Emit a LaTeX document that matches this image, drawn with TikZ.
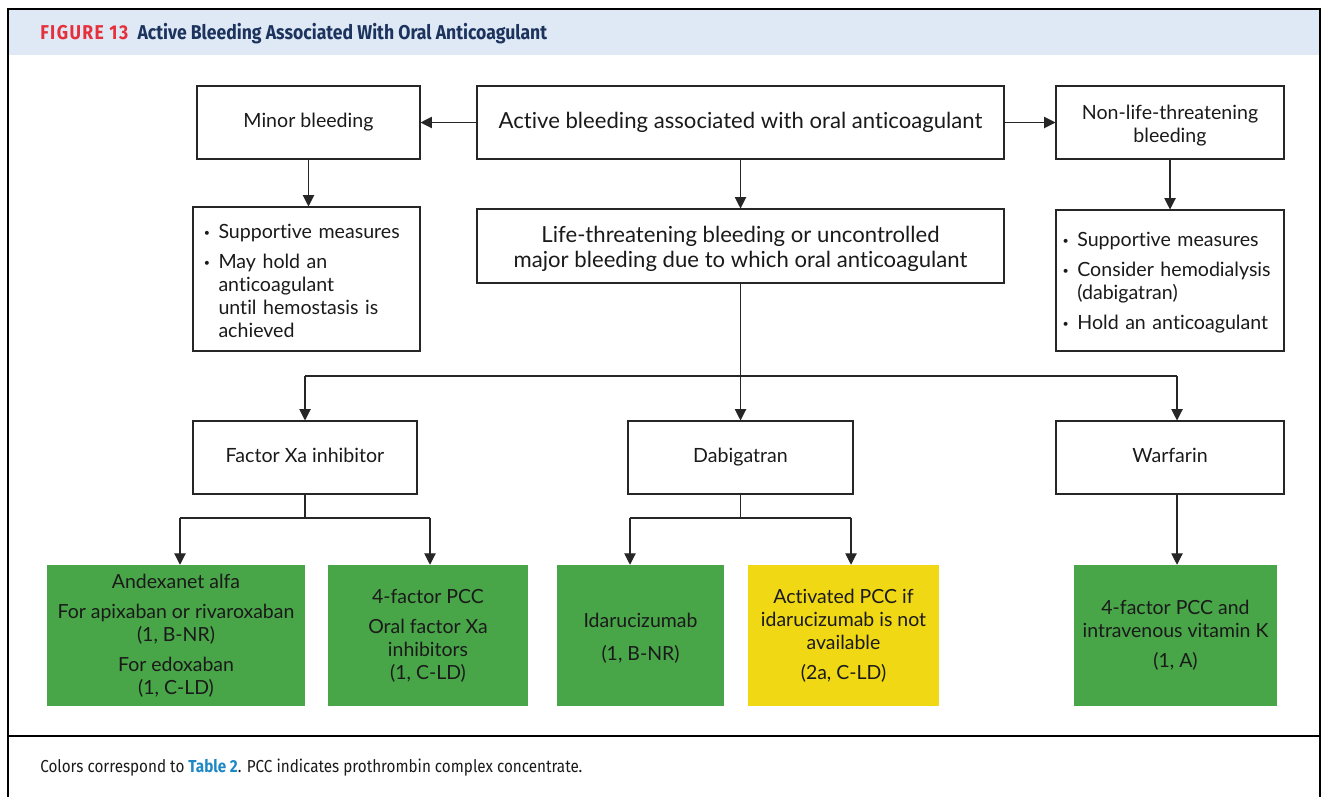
\documentclass[tikz,border=0pt]{standalone}
\usepackage{fontspec}
\setmainfont{Lato}[Ligatures={NoCommon}]
\newfontfamily\headfont[FakeStretch=0.88]{Fira Sans}
\usetikzlibrary{arrows.meta,calc}
\definecolor{hdrblue}{HTML}{DEE9F5}
\definecolor{hdrnavy}{HTML}{1C335E}
\definecolor{figred}{HTML}{E5303B}
\definecolor{linkblue}{HTML}{1E88C4}
\definecolor{cgreen}{HTML}{48A548}
\definecolor{cyellow}{HTML}{F0D814}
\definecolor{txt}{HTML}{1A1A1A}
\newcommand{\bul}{\makebox[11pt][l]{\raisebox{1.5pt}{\fontsize{8}{8}\selectfont\textbullet}}}
\newcommand{\ind}{\hspace*{11pt}}
\newcommand{\sr}{\rule[-3.5pt]{0pt}{15pt}}
\newcommand{\tr}{\rule{0pt}{15pt}}
\begin{document}
\begin{tikzpicture}[x=0.75pt,y=-0.75pt,
  box/.style={draw=black!85, line width=0.8pt, inner sep=0pt, align=center, text=txt,
    font=\fontsize{14.7}{17.25}\selectfont},
  big/.style={font=\fontsize{16.6}{19}\selectfont},
  lbox/.style={box, align=left, inner xsep=8pt},
  rec/.style={inner sep=0pt, align=center, text=txt, font=\fontsize{14.6}{17.25}\selectfont},
  conn/.style={line width=0.8pt, draw=black!85},
  arr/.style={conn, -{Triangle[length=8.5pt,width=8.5pt]}}]
\useasboundingbox (0,0) rectangle (1326,797);
% header and frame
\fill[hdrblue] (8,9) rectangle (1320,55);
\draw[line width=2pt] (8,797) -- (8,9) -- (1320,9) -- (1320,797);
\draw[line width=1.5pt] (8,736) -- (1320,736);
\node[anchor=west, inner sep=0pt, font=\headfont\bfseries\fontsize{15}{17}\selectfont] (title) at (40,34)
  {\textcolor{figred}{\addfontfeature{LetterSpace=7}FIGURE 13}\hspace{7pt}\textcolor{hdrnavy}{Active Bleeding Associated With Oral Anticoagulant}};
\node[anchor=west, inner sep=0pt, font=\headfont\fontsize{13}{15}\selectfont, text=txt] (caption) at (40,768)
  {Colors correspond to \textcolor{linkblue}{\bfseries Table 2}. PCC indicates prothrombin complex concentrate.};
% boxes
\node[box, minimum width=167.25pt, minimum height=54.75pt] (minor) at (308.5,122.5) {\sr Minor bleeding};
\node[box, big, minimum width=395.25pt, minimum height=54.75pt] (active) at (740.5,122.5) {\sr Active bleeding associated with oral anticoagulant};
\node[box, minimum width=171pt, minimum height=54.75pt] (nonlife) at (1170,122.5) {\tr Non-life-threatening\\bleeding};
\node[lbox, minimum width=170.25pt, minimum height=108pt, text width=154pt] (supL) at (306.5,279)
  {\rule{0pt}{14pt}\bul Supportive measures\\[5.25pt]\bul May hold an\\\ind anticoagulant\\\ind until hemostasis is\\\ind achieved};
\node[box, big, minimum width=395.25pt, minimum height=55.5pt] (life) at (740.5,246) {\rule{0pt}{16.5pt}Life-threatening bleeding or uncontrolled\\major bleeding due to which oral anticoagulant};
\node[lbox, inner xsep=5pt, minimum width=171pt, minimum height=105.75pt, text width=161pt] (supR) at (1170,280.5)
  {\rule{0pt}{14pt}\bul Supportive measures\\[5.25pt]\bul \mbox{Consider hemodialysis}\\\ind (dabigatran)\\[5.25pt]\bul \mbox{Hold an anticoagulant}};
\node[box, minimum width=168pt, minimum height=54.75pt] (fxa) at (305,457.5) {\sr Factor Xa inhibitor};
\node[box, minimum width=168.75pt, minimum height=54.75pt] (dabi) at (740.5,457.5) {\sr Dabigatran};
\node[box, minimum width=171pt, minimum height=54.75pt] (warf) at (1170,457.5) {\sr Warfarin};
% recommendation boxes
\node[rec, fill=cgreen, minimum width=193.5pt, minimum height=105.75pt] (g1) at (176,635.5)
  {Andexanet alfa\\[5.25pt]For apixaban or rivaroxaban\\(1, B-NR)\\[5.25pt]For edoxaban\\(1, C-LD)};
\node[rec, fill=cgreen, minimum width=150pt, minimum height=105.75pt] (g2) at (428,635.5)
  {4-factor PCC\\[5.25pt]Oral factor Xa\\inhibitors\\(1, C-LD)};
\node[rec, fill=cgreen, minimum width=125.25pt, minimum height=105.75pt] (g3) at (640.5,635.5)
  {\tr Idarucizumab\\[7pt](1, B-NR)};
\node[rec, fill=cyellow, minimum width=143.25pt, minimum height=105.75pt] (y1) at (843.5,635.5)
  {Activated PCC if\\idarucizumab is not\\available\\[5.25pt](2a, C-LD)};
\node[rec, fill=cgreen, minimum width=152.25pt, minimum height=105.75pt] (g4) at (1175.5,635.5)
  {4-factor PCC and\\intravenous vitamin K\\[5.25pt](1, A)};
% connectors top
\draw[arr] (active.west) -- (minor.east);
\draw[arr] (active.east) -- (nonlife.west);
\draw[arr] (minor.south) -- (minor.south |- supL.north);
\draw[arr] (active.south) -- (life.north);
\draw[arr] (nonlife.south) -- (nonlife.south |- supR.north);
% branch to drug classes
\coordinate (jm) at (740.5,376);
\coordinate (jl) at (305,376);
\coordinate (jr) at (1177,376);
\draw[conn] (life.south) -- (jm);
\draw[conn] (jl) -- (jr);
\draw[arr] (jl) -- (fxa.north);
\draw[arr] (jm) -- (dabi.north);
\draw[arr] (jr) -- (jr |- warf.north);
% factor Xa branch
\coordinate (fm) at (305,518);
\coordinate (fl) at (180,518);
\coordinate (fr) at (430,518);
\draw[conn] (fxa.south) -- (fm);
\draw[conn] (fl) -- (fr);
\draw[arr] (fl) -- (fl |- g1.north);
\draw[arr] (fr) -- (fr |- g2.north);
% dabigatran branch
\coordinate (dm) at (740.5,518);
\coordinate (dl) at (630,518);
\coordinate (dr) at (851,518);
\draw[conn] (dabi.south) -- (dm);
\draw[conn] (dl) -- (dr);
\draw[arr] (dl) -- (dl |- g3.north);
\draw[arr] (dr) -- (dr |- y1.north);
% warfarin
\coordinate (wb) at (1177,494.875);
\draw[arr] (wb) -- (wb |- g4.north);
\end{tikzpicture}
\end{document}
